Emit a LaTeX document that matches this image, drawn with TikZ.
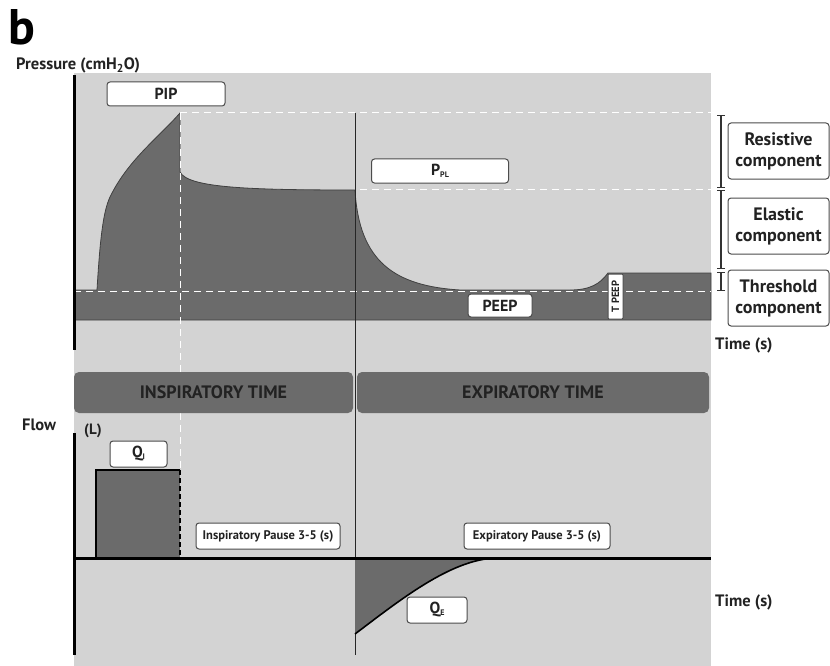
\documentclass[tikz,border=0pt]{standalone}
\usepackage{fontspec}
\setmainfont{PT Sans}
\usetikzlibrary{positioning, arrows.meta}
\definecolor{bgGray}{HTML}{D3D3D3}
\definecolor{fillGray}{HTML}{6B6B6B}
\definecolor{txtDark}{HTML}{222222}
\newcommand{\lowsub}[1]{\raisebox{-0.25ex}{\fontsize{8}{8}\selectfont #1}}
\tikzset{
  font=\bfseries,
  tagbox/.style={draw=black!70, fill=white, rounded corners=3pt, line width=1pt, inner sep=0pt, align=center, text=txtDark, font=\fontsize{16}{18}\bfseries},
  compbox/.style={tagbox, minimum width=101pt, minimum height=56pt, font=\fontsize{18}{21}\bfseries},
  phase/.style={fill=fillGray, rounded corners=5pt, minimum height=41pt, inner sep=0pt, font=\fontsize{18}{20}\bfseries, text=txtDark},
  axislbl/.style={font=\fontsize{16.5}{18}\bfseries, inner sep=0pt, anchor=base west, text=txtDark},
  wdash/.style={white, dash pattern=on 7pt off 5pt, line width=1pt},
  bdash/.style={black, dash pattern=on 5pt off 3pt, line width=1.5pt},
  axisline/.style={line width=3pt, black}
}

\begin{document}
\begin{tikzpicture}[x=1pt, y=-1pt]
  \useasboundingbox (0,0) rectangle (830,666);
  \fill[bgGray] (74,73) rectangle (711,666);

  % pressure curve
  \filldraw[fill=fillGray, draw=black!75, line width=0.8pt]
    (74,290) -- (97,290) .. controls (100,240) and (103,212) .. (110,197)
    .. controls (128,160) and (158,138) .. (180,113) -- (180,172)
    .. controls (188,188) and (250,190) .. (355,190)
    .. controls (359,262) and (395,286) .. (460,290) -- (570,290)
    .. controls (590,290) and (600,284) .. (608,273) -- (711,273)
    -- (711,320) -- (74,320) -- cycle;

  % reference lines
  \draw[wdash] (74,291) -- (711,291);
  \draw[wdash] (180,113) -- (711,113);
  \draw[wdash] (360,189) -- (711,189);
  \draw[wdash] (180,113) -- (180,372);
  \draw[wdash] (180,413) -- (180,470);
  \draw[black!85, line width=1pt] (355,113) -- (355,655);
  \draw[axisline] (74,75) -- (74,350);

  \node[tagbox, minimum width=118pt, minimum height=24pt] (pip) at (166,94) {PIP};
  \node[tagbox, minimum width=137pt, minimum height=24pt] (ppl) at (440,171) {P\lowsub{PL}};
  \node[tagbox, minimum width=64pt, minimum height=23pt] (peep) at (500,305.5) {PEEP};
  \node[tagbox, rotate=90, rounded corners=1pt, minimum width=45pt, minimum height=15pt, font=\fontsize{10.5}{11}\bfseries] (tpeep) at (615.5,296.5) {T PEEP};

  % components
  \node[compbox] (resist) at (778.5,151) {Resistive\\component};
  \node[compbox, below=18pt of resist] (elastic) {Elastic\\component};
  \node[compbox, below=15pt of elastic] (thresh) {Threshold\\component};

  \coordinate (br1) at (721,115);
  \coordinate (br2) at (721,188);
  \coordinate (br3) at (721,190);
  \coordinate (br4) at (721,269);
  \coordinate (br5) at (721,272);
  \coordinate (br6) at (721,291);
  \draw[{Bar[width=8pt]}-{Bar[width=8pt]}, line width=1.2pt, black!80] (br1) -- (br2);
  \draw[{Bar[width=8pt]}-{Bar[width=8pt]}, line width=1.2pt, black!80] (br3) -- (br4);
  \draw[{Bar[width=8pt]}-{Bar[width=8pt]}, line width=1.2pt, black!80] (br5) -- (br6);

  % labels
  \node[anchor=base west, inner sep=0pt, font=\fontsize{50}{50}\bfseries, text=black] (panel) at (8,45) {b};
  \node[axislbl] (plabel) at (16,70) {Pressure (cmH\textsubscript{2}O)};
  \node[axislbl] (ptime) at (715,349) {Time (s)};
  \node[axislbl] (flowlbl) at (22,430) {Flow};
  \node[axislbl, font=\fontsize{15}{16}\bfseries] (flowunit) at (84,434) {(L)};
  \node[axislbl] (ftime) at (715,606) {Time (s)};

  % phases
  \node[phase, minimum width=279pt] (insptime) at (213.5,392.5) {INSPIRATORY TIME};
  \node[phase, minimum width=352pt] (exptime) at (533,392.5) {EXPIRATORY TIME};

  % flow curve
  \fill[fillGray] (96,558) rectangle (180,470);
  \draw[line width=1.5pt] (96,558) -- (96,470) -- (180,470);
  \draw[bdash] (180,470) -- (180,558);
  \fill[fillGray] (355,558) -- (355,634) .. controls (400,600) and (450,560) .. (495,558) -- cycle;
  \draw[line width=1.6pt] (355,634) .. controls (400,600) and (450,560) .. (495,558);
  \draw[axisline] (74,558) -- (711,558);
  \draw[axisline] (74,433) -- (74,655);

  \node[tagbox, minimum width=57pt, minimum height=26pt] (qi) at (138.5,454) {Q\lowsub{I}};
  \node[tagbox, minimum width=60pt, minimum height=26pt] (qe) at (437,610) {Q\lowsub{E}};
  \node[tagbox, minimum width=144pt, minimum height=26pt, font=\fontsize{12.5}{14}\bfseries] (inspause) at (268,536) {Inspiratory Pause 3-5 (s)};
  \node[tagbox, minimum width=146pt, minimum height=26pt, font=\fontsize{12.5}{14}\bfseries] (expause) at (537,536) {Expiratory Pause 3-5 (s)};
\end{tikzpicture}
\end{document}
